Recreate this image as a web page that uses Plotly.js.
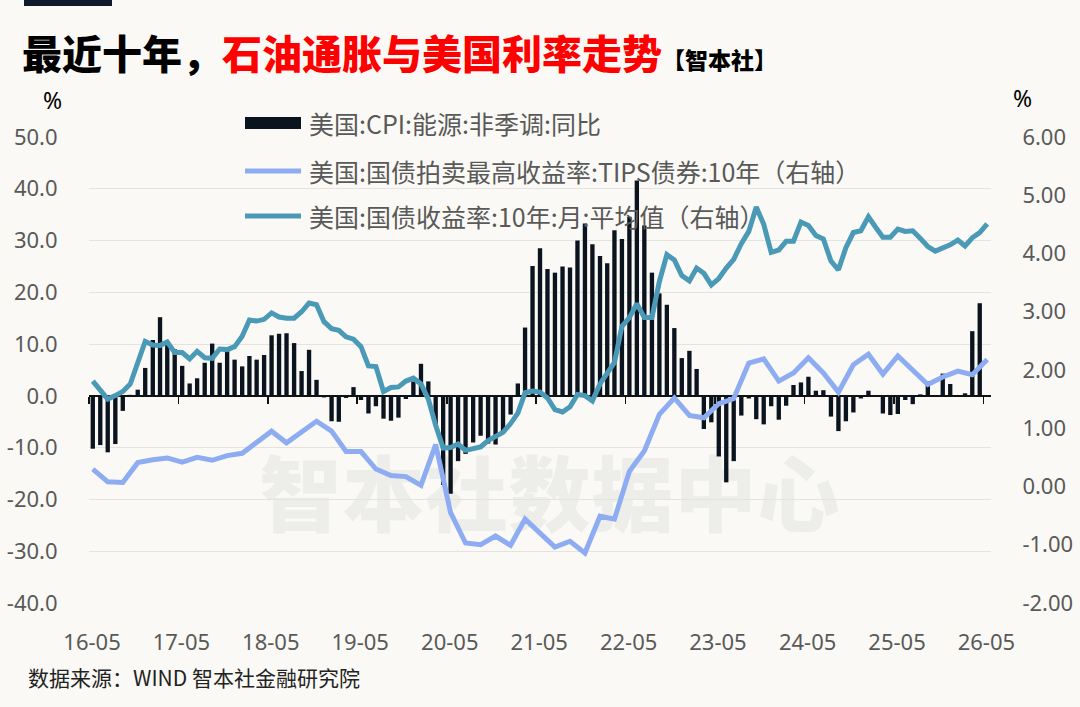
<!DOCTYPE html>
<html>
<head>
<meta charset="utf-8">
<script src="https://cdn.plot.ly/plotly-3.0.1.min.js"></script>
<style>
  html, body { margin: 0; padding: 0; background: #faf9f5; }
  #wrap { position: relative; width: 1080px; height: 707px; overflow: hidden; }
  #wm { position: absolute; left: 0; width: 1080px; top: 440px; text-align: center;
        font-family: "Noto Sans CJK SC", sans-serif; font-weight: 900; font-size: 82px;
        color: #edede9; letter-spacing: 1px; line-height: 100px; padding-left: 20px; box-sizing: border-box; }
  #chart { position: absolute; left: 0; top: 0; width: 1080px; height: 707px; }
</style>
</head>
<body>
<div id="wrap">
  <div id="wm">智本社数据中心</div>
  <div id="chart"></div>
</div>
<script>
// ---- Categories: monthly, 2016-05 .. 2026-05 (121 months) ----
const startYear = 2016, startMonth = 5, monthCount = 121;
const months = [];
for (let i = 0; i < monthCount; i++) {
  const t = startMonth - 1 + i;
  const y = startYear + Math.floor(t / 12);
  const m = (t % 12) + 1;
  months.push(y + '-' + String(m).padStart(2, '0'));
}

// ---- 美国:CPI:能源:非季调:同比 (%), left axis ----
const cpiEnergy = [
  -10.2, -9.5, -10.9, -9.3, -2.9, 0.2, 1.2, 5.4,            // 16-05..16-12
  10.8, 15.2, 10.5, 9.0, 5.8, 2.4, 3.4, 6.4, 10.1, 6.4, 8.8, 7.0,   // 2017
  5.7, 7.7, 7.0, 7.9, 11.7, 12.0, 12.1, 10.2, 4.8, 8.9, 3.1, -0.3,  // 2018
  -4.9, -5.0, -0.4, 1.7, -0.8, -3.4, -2.0, -4.4, -4.8, -4.2, -0.6, 3.4, // 2019
  6.2, 2.8, -5.7, -17.2, -18.9, -12.6, -11.2, -9.0, -7.7, -9.2, -9.4, -7.0, // 2020
  -3.6, 2.4, 13.2, 25.1, 28.5, 24.5, 23.8, 25.0, 24.8, 30.0, 33.3, 29.3, // 2021
  27.0, 25.6, 32.0, 30.3, 34.6, 41.6, 32.9, 23.8, 19.8, 17.6, 13.1, 7.3, // 2022
  8.7, 5.2, -6.4, -5.1, -11.7, -16.7, -12.6, -3.8, -0.5, -4.5, -5.5, -2.0, // 2023
  -4.6, -1.9, 2.1, 2.6, 3.7, 1.0, 1.1, -4.0, -6.8, -4.9, -3.2, -0.5, // 2024
  1.0, -0.2, -3.4, -3.7, -3.5, -0.8, -1.6, 0.3, 2.8, null, 4.3, 2.3, // 2025
  -0.1, 0.5, 12.5, 17.9, null                                  // 2026-01..05
];

// ---- 美国:国债拍卖最高收益率:TIPS债券:10年 (%), right axis; auction months only ----
const tipsAuction = [
  0.30, null, 0.08, null, 0.07, null, 0.41, null,             // 16-05..16-12
  0.46, null, 0.49, null, 0.42, null, 0.50, null, 0.45, null, 0.53, null, // 2017
  0.57, null, 0.75, null, 0.95, null, 0.75, null, 0.93, null, 1.12, null, // 2018
  0.95, null, 0.60, null, 0.60, null, 0.30, null, 0.19, null, 0.17, null, // 2019
  0.02, null, 0.72, null, -0.45, null, -0.97, null, -1.00, null, -0.85, null, // 2020
  -1.01, null, -0.56, null, -0.80, null, -1.04, null, -0.94, null, -1.14, null, // 2021
  -0.51, null, -0.56, null, 0.26, null, 0.61, null, 1.24, null, 1.52, null, // 2022
  1.22, null, 1.18, null, 1.42, null, 1.51, null, 2.12, null, 2.19, null, // 2023
  1.81, null, 1.95, null, 2.21, null, 1.95, null, 1.62, null, 2.09, null, // 2024
  2.27, null, 1.93, null, 2.24, null, 2.01, null, 1.75, null, 1.88, null, // 2025
  1.98, null, 1.92, null, 2.18                                // 2026-01..05
];

// ---- 美国:国债收益率:10年:月:平均值 (%), right axis ----
const ust10y = [
  1.81, 1.64, 1.50, 1.56, 1.63, 1.76, 2.14, 2.49,             // 16-05..16-12
  2.43, 2.42, 2.48, 2.30, 2.30, 2.19, 2.32, 2.21, 2.20, 2.36, 2.35, 2.40, // 2017
  2.58, 2.86, 2.84, 2.87, 2.98, 2.91, 2.89, 2.89, 3.00, 3.15, 3.12, 2.83, // 2018
  2.71, 2.68, 2.57, 2.53, 2.40, 2.07, 2.06, 1.63, 1.70, 1.71, 1.81, 1.86, // 2019
  1.76, 1.50, 1.05, 0.66, 0.67, 0.73, 0.62, 0.65, 0.68, 0.79, 0.87, 0.93, // 2020
  1.08, 1.26, 1.61, 1.64, 1.62, 1.52, 1.32, 1.28, 1.37, 1.58, 1.56, 1.47, // 2021
  1.76, 1.93, 2.13, 2.75, 2.90, 3.14, 2.90, 2.90, 3.52, 3.98, 3.89, 3.62, // 2022
  3.53, 3.75, 3.66, 3.46, 3.57, 3.75, 3.90, 4.17, 4.38, 4.80, 4.50, 4.02, // 2023
  4.06, 4.21, 4.21, 4.54, 4.48, 4.31, 4.25, 3.87, 3.72, 4.10, 4.36, 4.39, // 2024
  4.63, 4.45, 4.28, 4.28, 4.42, 4.38, 4.39, 4.26, 4.12, 4.04, 4.09, 4.15, // 2025
  4.23, 4.13, 4.27, 4.36, 4.51                                // 2026-01..05
];

// ---- Tick labels ----
const xTickLabels = ['16-05','17-05','18-05','19-05','20-05','21-05','22-05','23-05','24-05','25-05','26-05'];
const leftTickVals = [-40, -30, -20, -10, 0, 10, 20, 30, 40, 50];
const leftTickText = ['-40.0','-30.0','-20.0','-10.0','0.0','10.0','20.0','30.0','40.0','50.0'];
const rightTickVals = [-2, -1, 0, 1, 2, 3, 4, 5, 6];
const rightTickText = ['-2.00','-1.00','0.00','1.00','2.00','3.00','4.00','5.00','6.00'];

const seriesNames = [
  '美国:CPI:能源:非季调:同比',
  '美国:国债拍卖最高收益率:TIPS债券:10年（右轴）',
  '美国:国债收益率:10年:月:平均值（右轴）'
];

const xTickVals = xTickLabels.map(s => '20' + s.slice(0, 2) + '-' + s.slice(3) + '-01');
const xRange = ['2016-05-01', '2026-06-01'];

const COL_BAR = '#0b141e', COL_TIPS = '#8eacf1', COL_UST = '#4a99b6';
const CJK = '"Noto Sans CJK SC", "Noto Sans", sans-serif';
const LAT = '"Noto Sans", "Open Sans", sans-serif';

const traces = [
  { type: 'bar', name: seriesNames[0], x: months, y: cpiEnergy,
    xperiod: 'M1', xperiodalignment: 'middle',
    marker: { color: COL_BAR }, showlegend: false, hoverinfo: 'x+y' },
  { type: 'scatter', mode: 'lines', name: seriesNames[1], x: months, y: tipsAuction,
    xperiod: 'M1', xperiodalignment: 'middle', yaxis: 'y2', connectgaps: true,
    line: { color: COL_TIPS, width: 5 }, showlegend: false },
  { type: 'scatter', mode: 'lines', name: seriesNames[2], x: months, y: ust10y,
    xperiod: 'M1', xperiodalignment: 'middle', yaxis: 'y2',
    line: { color: COL_UST, width: 5 }, showlegend: false },
  // carrier for the zero-level tick marks axis
  { type: 'scatter', mode: 'lines', x: [months[0]], y: [null], xaxis: 'x2',
    showlegend: false, hoverinfo: 'skip' }
];

// pixel helpers for paper-anchored decorations (plot area: x 89..991, y 137..603)
const PL = 89, PR = 991, PT = 137, PB = 603;
const px = v => (v - PL) / (PR - PL);
const py = v => (PB - v) / (PB - PT);

const legendRowsY = [123, 171, 216];

const shapes = [
  { type: 'rect', xref: 'paper', yref: 'paper', x0: px(24), x1: px(112), y0: py(6), y1: py(-2),
    fillcolor: '#0f1b2b', line: { width: 0 } },
  { type: 'rect', xref: 'paper', yref: 'paper', x0: px(245), x1: px(301), y0: py(129), y1: py(117),
    fillcolor: COL_BAR, line: { width: 0 } },
  { type: 'line', xref: 'paper', yref: 'paper', x0: px(245), x1: px(301), y0: py(legendRowsY[1]), y1: py(legendRowsY[1]),
    line: { color: COL_TIPS, width: 5 } },
  { type: 'line', xref: 'paper', yref: 'paper', x0: px(245), x1: px(301), y0: py(legendRowsY[2]), y1: py(legendRowsY[2]),
    line: { color: COL_UST, width: 5 } }
];

const annotations = [
  { xref: 'paper', yref: 'paper', x: px(20), y: py(52), xanchor: 'left', yanchor: 'middle', showarrow: false,
    text: '最近十年，<span style="color:#ff0000">石油通胀与美国利率走势</span><span style="font-size:23px">【智本社】</span>',
    font: { family: CJK, size: 40, color: '#000000', weight: 900 } },
  { xref: 'paper', yref: 'paper', x: px(52), y: py(100), xanchor: 'center', yanchor: 'middle', showarrow: false,
    text: '%', font: { family: LAT, size: 23, color: '#000000' } },
  { xref: 'paper', yref: 'paper', x: px(1022), y: py(98), xanchor: 'center', yanchor: 'middle', showarrow: false,
    text: '%', font: { family: LAT, size: 23, color: '#000000' } },
  { xref: 'paper', yref: 'paper', x: px(26), y: py(677), xanchor: 'left', yanchor: 'middle', showarrow: false,
    text: '数据来源：WIND 智本社金融研究院', font: { family: CJK, size: 21, color: '#222222' } }
];
seriesNames.forEach((n, i) => {
  annotations.push({ xref: 'paper', yref: 'paper', x: px(307), y: py(legendRowsY[i]), xanchor: 'left', yanchor: 'middle',
    showarrow: false, text: n, font: { family: CJK, size: 25, color: '#595959' } });
});

const layout = {
  width: 1080, height: 707,
  margin: { l: PL, r: 1080 - PR, t: PT, b: 707 - PB, pad: 0 },
  paper_bgcolor: 'rgba(0,0,0,0)', plot_bgcolor: 'rgba(0,0,0,0)',
  font: { family: LAT, color: '#595959', size: 22 },
  bargap: 0.4,
  showlegend: false,
  xaxis: { type: 'date', range: xRange, tickvals: xTickVals, ticktext: xTickLabels,
    ticks: 'outside', ticklen: 20, tickcolor: 'rgba(0,0,0,0)', ticklabelshift: 3,
    showgrid: false, zeroline: false, showline: false,
    tickfont: { family: LAT, size: 22, color: '#595959' } },
  xaxis2: { type: 'date', range: xRange, tickvals: xTickVals, overlaying: 'x', anchor: 'free', position: 40 / 90,
    ticks: 'outside', ticklen: 7, tickwidth: 1.5, tickcolor: '#111111', showticklabels: false,
    showgrid: false, zeroline: false, showline: false },
  yaxis: { range: [-40, 50], tickvals: leftTickVals, ticktext: leftTickText,
    ticks: 'outside', ticklen: 26, tickcolor: 'rgba(0,0,0,0)',
    showgrid: true, gridcolor: '#e4e3e0', gridwidth: 1,
    zeroline: true, zerolinecolor: '#111111', zerolinewidth: 1.5, showline: false,
    tickfont: { family: LAT, size: 22, color: '#595959' } },
  yaxis2: { range: [-2, 6], tickvals: rightTickVals, ticktext: rightTickText, overlaying: 'y', side: 'right',
    ticks: 'outside', ticklen: 26, tickcolor: 'rgba(0,0,0,0)',
    showgrid: false, zeroline: false, showline: false,
    tickfont: { family: LAT, size: 22, color: '#595959' } },
  shapes: shapes,
  annotations: annotations
};

Plotly.newPlot('chart', traces, layout, { displayModeBar: false, staticPlot: true });
</script>
</body>
</html>
